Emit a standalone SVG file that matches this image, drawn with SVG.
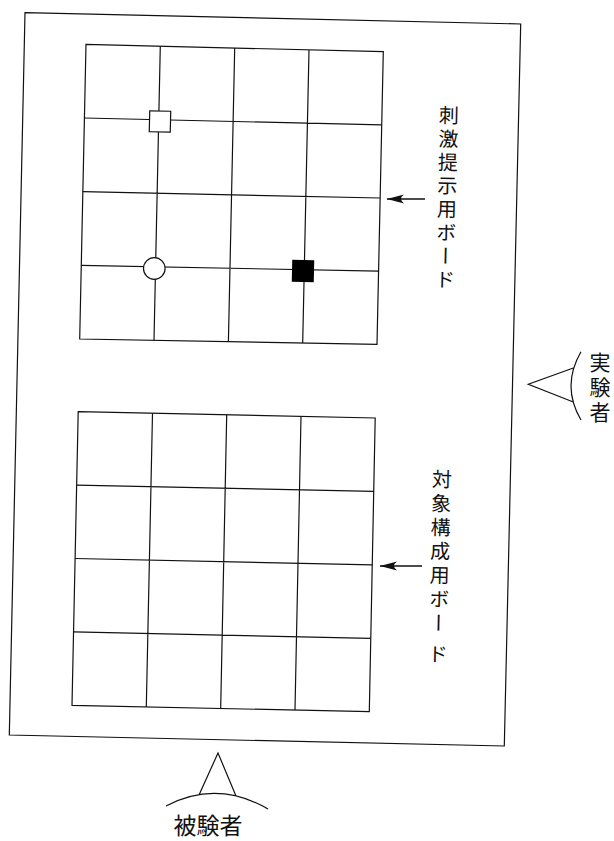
<svg xmlns="http://www.w3.org/2000/svg" width="614" height="841" viewBox="0 0 614 841">
<style>
.ln{fill:none;stroke:#111;stroke-width:1.2;stroke-linejoin:miter}
.jp{font-family:"Noto Sans CJK JP","Noto Sans CJK SC",sans-serif;fill:#111}
.v{writing-mode:vertical-rl;font-size:20px}
.arr{fill:none;stroke:#111;stroke-width:1.3}
</style>
<defs>
<marker id="ah" viewBox="0 0 17 10" refX="17" refY="5" markerWidth="17" markerHeight="10" markerUnits="userSpaceOnUse" orient="auto">
<path d="M17,5 L0,0.6 Q6,5 0,9.4 Z" fill="#111"/>
</marker>
</defs>
<rect width="614" height="841" fill="#fff"/>
<g id="table">
<polygon class="ln" points="25,12.7 520.7,24 504.3,746 9.3,735"/>
</g>
<g id="board-stimulus">
<polygon class="ln" points="86,44.3 383.3,51.7 377,344.3 79.7,339"/>
<path class="ln" d="M160.3,46.2 L154,340.3 M234.7,48 L228.4,341.7 M309,49.9 L302.7,343 M84.4,118 L381.7,124.9 M82.9,191.7 L380.2,198 M81.3,265.3 L378.6,271.2"/>
<rect x="149.5" y="111" width="21" height="21" fill="#fff" stroke="#111" stroke-width="1.2" transform="rotate(1.3 160 121.5)"/>
<circle cx="154.3" cy="268.5" r="10.8" fill="#fff" stroke="#111" stroke-width="1.2"/>
<rect x="292" y="260" width="22" height="22" fill="#000" transform="rotate(1.3 303 271)"/>
</g>
<g id="board-construct">
<polygon class="ln" points="78.2,411.7 375.2,418 369.3,711.7 72,705.3"/>
<path class="ln" d="M152.5,413.3 L146.3,706.9 M226.7,414.9 L220.7,708.5 M301,416.4 L295,710.1 M76.7,485.1 L373.7,491.4 M75.1,558.5 L372.3,564.9 M73.6,631.9 L370.8,638.3"/>
</g>
<g id="label-stimulus">
<text class="jp v" x="447" y="105" letter-spacing="3.5" transform="rotate(1.3 447 200)">刺激提示用ボード</text>
</g>
<g id="label-construct">
<text class="jp v" x="440" y="469" letter-spacing="4" transform="rotate(1.3 440 560)">対象構成用ボー<tspan dy="7">ド</tspan></text>
</g>
<g id="experimenter">
<path class="ln" d="M574,367.7 L528.3,384.3 L572.7,401.7 M581,351.7 Q561,386 581,420"/>
<text class="jp v" x="600" y="351.5" style="font-size:21px" letter-spacing="4">実験者</text>
</g>
<g id="subject">
<path class="ln" d="M199,795 L218,753 L236,796 M166,806 Q217,779.5 268,809"/>
<text class="jp" x="208" y="834" text-anchor="middle" font-size="23">被験者</text>
</g>
<g id="connectors">
<line class="arr" x1="425" y1="199" x2="387" y2="199" marker-end="url(#ah)"/>
<line class="arr" x1="422" y1="566" x2="380" y2="566" marker-end="url(#ah)"/>
</g>
</svg>
